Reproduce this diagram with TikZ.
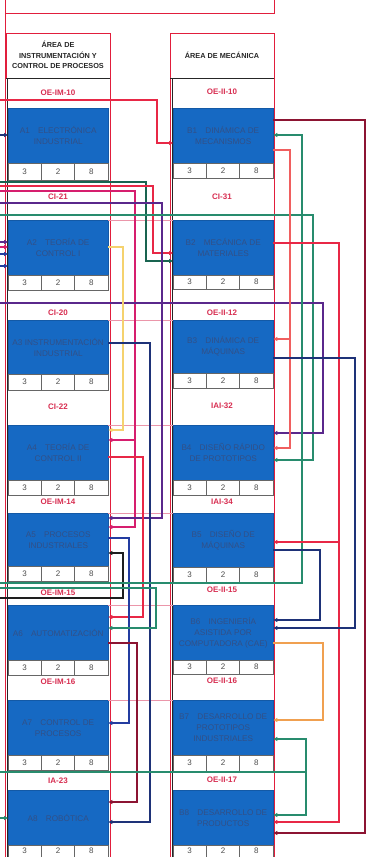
\documentclass[tikz,border=0pt]{standalone}
\usepackage{fontspec}
\setmainfont{Liberation Sans}
\usetikzlibrary{arrows.meta}
\definecolor{cred}{RGB}{232,40,70}
\definecolor{cmag}{RGB}{214,30,110}
\definecolor{csalmon}{RGB}{240,95,95}
\definecolor{cmaroon}{RGB}{140,20,50}
\definecolor{cgreen}{RGB}{40,140,110}
\definecolor{cdgreen}{RGB}{25,100,80}
\definecolor{cpurple}{RGB}{90,40,140}
\definecolor{cnavy}{RGB}{30,50,120}
\definecolor{cblue}{RGB}{35,60,160}
\definecolor{cyellow}{RGB}{245,210,110}
\definecolor{corange}{RGB}{240,160,80}
\definecolor{cblack}{RGB}{30,30,30}
\definecolor{boxblue}{RGB}{22,105,195}
\definecolor{boxtext}{RGB}{50,80,135}
\definecolor{codered}{RGB}{215,45,80}
\definecolor{framered}{RGB}{225,30,60}
\definecolor{pinkthin}{RGB}{235,150,170}
\tikzset{
  coursebox/.style={fill=boxblue, draw=boxblue!85!black, line width=0.4pt, minimum width=100pt,
    inner sep=1pt, align=center, text=boxtext, font=\fontsize{8.2}{11}\selectfont, anchor=north west},
  codelbl/.style={text=codered, font=\bfseries\fontsize{8}{9}\selectfont},
  hdr/.style={font=\bfseries\fontsize{7.3}{10.5}\selectfont, align=center, text=black!85},
  digit/.style={font=\fontsize{8}{9}\selectfont, text=black!70},
  conn/.style={line width=1.2pt},
  arr/.style={-{Triangle[length=4pt,width=4pt]}},
  thinpink/.style={draw=pinkthin, line width=0.5pt},
  framer/.style={draw=framered, line width=1pt},
  frameb/.style={draw=black!85, line width=0.8pt},
  cellline/.style={draw=black!60, line width=0.6pt},
}
\newcommand{\mycourse}[6]{%
  \node[coursebox, minimum height={(#4-#3)*1pt}] (#1) at (#2,#3) {#6};
  \draw[cellline, fill=white] (#2,#4) rectangle (#2+100,#5);
  \draw[cellline] (#2+33.3,#4) -- (#2+33.3,#5) (#2+66.7,#4) -- (#2+66.7,#5);
  \node[digit] (#1c1) at (#2+16.7,{(#4+#5)/2}) {3};
  \node[digit] (#1c2) at (#2+50,{(#4+#5)/2}) {2};
  \node[digit] (#1c3) at (#2+83.3,{(#4+#5)/2}) {8};
}
\begin{document}
\begin{tikzpicture}[x=1pt,y=-1pt]
\useasboundingbox (0,0) rectangle (368,857);
% frames
\draw[framer] (5,0) -- (5,857);
\draw[framer] (5,13) -- (274,13) -- (274,0);
\draw[framer] (6,78) -- (6,33) -- (110,33) -- (110,857);
\draw[frameb] (6,78) -- (110,78);
\draw[frameb] (7.5,78) -- (7.5,857);
\draw[framer] (170,857) -- (170,33) -- (274,33) -- (274,857);
\draw[frameb] (170,78) -- (274,78);
\draw[frameb] (172,78) -- (172,857);
\node[hdr] (hA) at (58,55) {ÁREA DE\\INSTRUMENTACIÓN Y\\CONTROL DE PROCESOS};
\node[hdr] (hB) at (222,55) {ÁREA DE MECÁNICA};
% courses
\mycourse{A1}{8}{108}{163}{180}{A1\quad ELECTRÓNICA\\INDUSTRIAL}
\mycourse{A2}{8}{220}{275}{290}{A2\quad TEORÍA DE\\CONTROL I}
\mycourse{A3}{8}{320}{374}{390}{A3 INSTRUMENTACIÓN\\INDUSTRIAL}
\mycourse{A4}{8}{425}{480}{495}{A4\quad TEORÍA DE\\CONTROL II}
\mycourse{A5}{8}{513}{566}{581}{A5\quad PROCESOS\\INDUSTRIALES}
\mycourse{A6}{8}{605}{660}{675}{A6\quad AUTOMATIZACIÓN}
\mycourse{A7}{8}{700}{755}{770}{A7\quad CONTROL DE\\PROCESOS}
\mycourse{A8}{8}{790}{845}{857}{A8\quad ROBÓTICA}
\mycourse{B1}{173}{108}{163}{178}{B1\quad DINÁMICA DE\\MECANISMOS}
\mycourse{B2}{173}{220}{275}{289}{B2\quad MECÁNICA DE\\MATERIALES}
\mycourse{B3}{173}{320}{373}{388}{B3\quad DINÁMICA DE\\MÁQUINAS}
\mycourse{B4}{173}{425}{480}{495}{B4\quad DISEÑO RÁPIDO\\DE PROTOTIPOS}
\mycourse{B5}{173}{513}{567}{582}{B5\quad DISEÑO DE\\MÁQUINAS}
\mycourse{B6}{173}{605}{660}{674}{B6\quad INGENIERÍA\\ASISTIDA POR\\COMPUTADORA (CAE)}
\mycourse{B7}{173}{700}{755}{771}{B7\quad DESARROLLO DE\\PROTOTIPOS\\INDUSTRIALES}
\mycourse{B8}{173}{790}{845}{857}{B8\quad DESARROLLO DE\\PRODUCTOS}
% codes
\node[codelbl] (kA1) at (58,93) {OE-IM-10};
\node[codelbl] (kA2) at (58,197) {CI-21};
\node[codelbl] (kA3) at (58,313) {CI-20};
\node[codelbl] (kA4) at (58,407) {CI-22};
\node[codelbl] (kA5) at (58,502) {OE-IM-14};
\node[codelbl] (kA6) at (58,593) {OE-IM-15};
\node[codelbl] (kA7) at (58,682) {OE-IM-16};
\node[codelbl] (kA8) at (58,781) {IA-23};
\node[codelbl] (kB1) at (222,92) {OE-II-10};
\node[codelbl] (kB2) at (222,197) {CI-31};
\node[codelbl] (kB3) at (222,313) {OE-II-12};
\node[codelbl] (kB4) at (222,406) {IAI-32};
\node[codelbl] (kB5) at (222,502) {IAI-34};
\node[codelbl] (kB6) at (222,590) {OE-II-15};
\node[codelbl] (kB7) at (222,681) {OE-II-16};
\node[codelbl] (kB8) at (222,780) {OE-II-17};
% thin row lines
\foreach \i in {2,...,7}{\draw[thinpink] (A\i.north east) -- (B\i.north west);}
% free ends at the left edge
\coordinate (e100) at (0,100);
\coordinate (e135) at (0,135);
\coordinate (e182) at (0,182);
\coordinate (e186) at (0,186);
\coordinate (e191) at (0,191);
\coordinate (e203) at (0,203);
\coordinate (e215) at (0,215);
\coordinate (e242) at (0,242);
\coordinate (e247) at (0,247);
\coordinate (e254) at (0,254);
\coordinate (e266) at (0,266);
\coordinate (e303) at (0,303);
\coordinate (e583) at (0,583);
\coordinate (e588) at (0,588);
\coordinate (e598) at (0,598);
\coordinate (e772) at (0,772);
\coordinate (e818) at (0,818);
% connectors
\draw[conn,cred,arr] (e100) -| (157,143) -- (B1.west |- 0,143);
\draw[conn,cnavy,arr] (e135) -- (A1.west |- 0,135);
\draw[conn,cdgreen,arr] (e182) -| (146,261) -- (B2.west |- 0,261);
\draw[conn,cred,arr] (e186) -| (153,253) -- (B2.west |- 0,253);
\draw[conn,cmag,arr] (e191) -| (135,440) -- (A4.east |- 0,440);
\draw[conn,cmag,arr] (135,440) |- (A5.east |- 0,527);
\draw[conn,cpurple,arr] (e203) -| (162,518) -- (A5.east |- 0,518);
\draw[conn,cgreen,arr] (e215) -| (313,460) -- (B4.east |- 0,460);
\draw[conn,cpurple,arr] (e242) -- (A2.west |- 0,242);
\draw[conn,cmag,arr] (e247) -- (A2.west |- 0,247);
\draw[conn,cblue,arr] (e254) -- (A2.west |- 0,254);
\draw[conn,cblue,arr] (e266) -- (A2.west |- 0,266);
\draw[conn,cpurple,arr] (e303) -| (323,433) -- (B4.east |- 0,433);
\draw[conn,cyellow,arr] (A2.east |- 0,247) -| (123,430) -- (A4.east |- 0,430);
\draw[conn,cnavy,arr] (A3.east |- 0,343) -| (150,822) -- (A8.east |- 0,822);
\draw[conn,cred,arr] (A4.east |- 0,457) -| (143,617) -- (A6.east |- 0,617);
\draw[conn,cblue,arr] (A5.east |- 0,538) -| (129,723) -- (A7.east |- 0,723);
\draw[conn,cblack,arr] (e598) -| (123,553) -- (A5.east |- 0,553);
\draw[conn,cgreen,arr] (e583) -| (302,135) -- (B1.east |- 0,135);
\draw[conn,cgreen,arr] (e588) -| (156,628) -- (A6.east |- 0,628);
\draw[conn,cmaroon,arr] (A6.east |- 0,643) -| (137,802) -- (A8.east |- 0,802);
\draw[conn,cgreen] (e772) -- (306,772);
\draw[conn,cgreen,arr] (306,772) |- (B7.east |- 0,739);
\draw[conn,cgreen,arr] (306,772) |- (B8.east |- 0,815);
\draw[conn,cgreen,arr] (e818) -- (A8.west |- 0,818);
\draw[conn,cmaroon,arr] (B1.east |- 0,120) -| (365,833) -- (B8.east |- 0,833);
\draw[conn,csalmon,arr] (B1.east |- 0,150) -| (290,448) -- (B4.east |- 0,448);
\draw[conn,csalmon,arr] (290,339) -- (B3.east |- 0,339);
\draw[conn,cred,arr] (B2.east |- 0,243) -| (339,822) -- (B8.east |- 0,822);
\draw[conn,cred,arr] (339,542) -- (B5.east |- 0,542);
\draw[conn,cnavy,arr] (B3.east |- 0,358) -| (355,628) -- (B6.east |- 0,628);
\draw[conn,cnavy,arr] (B5.east |- 0,550) -| (320,620) -- (B6.east |- 0,620);
\draw[conn,corange,arr] (B6.east |- 0,643) -| (323,720) -- (B7.east |- 0,720);
\end{tikzpicture}
\end{document}
